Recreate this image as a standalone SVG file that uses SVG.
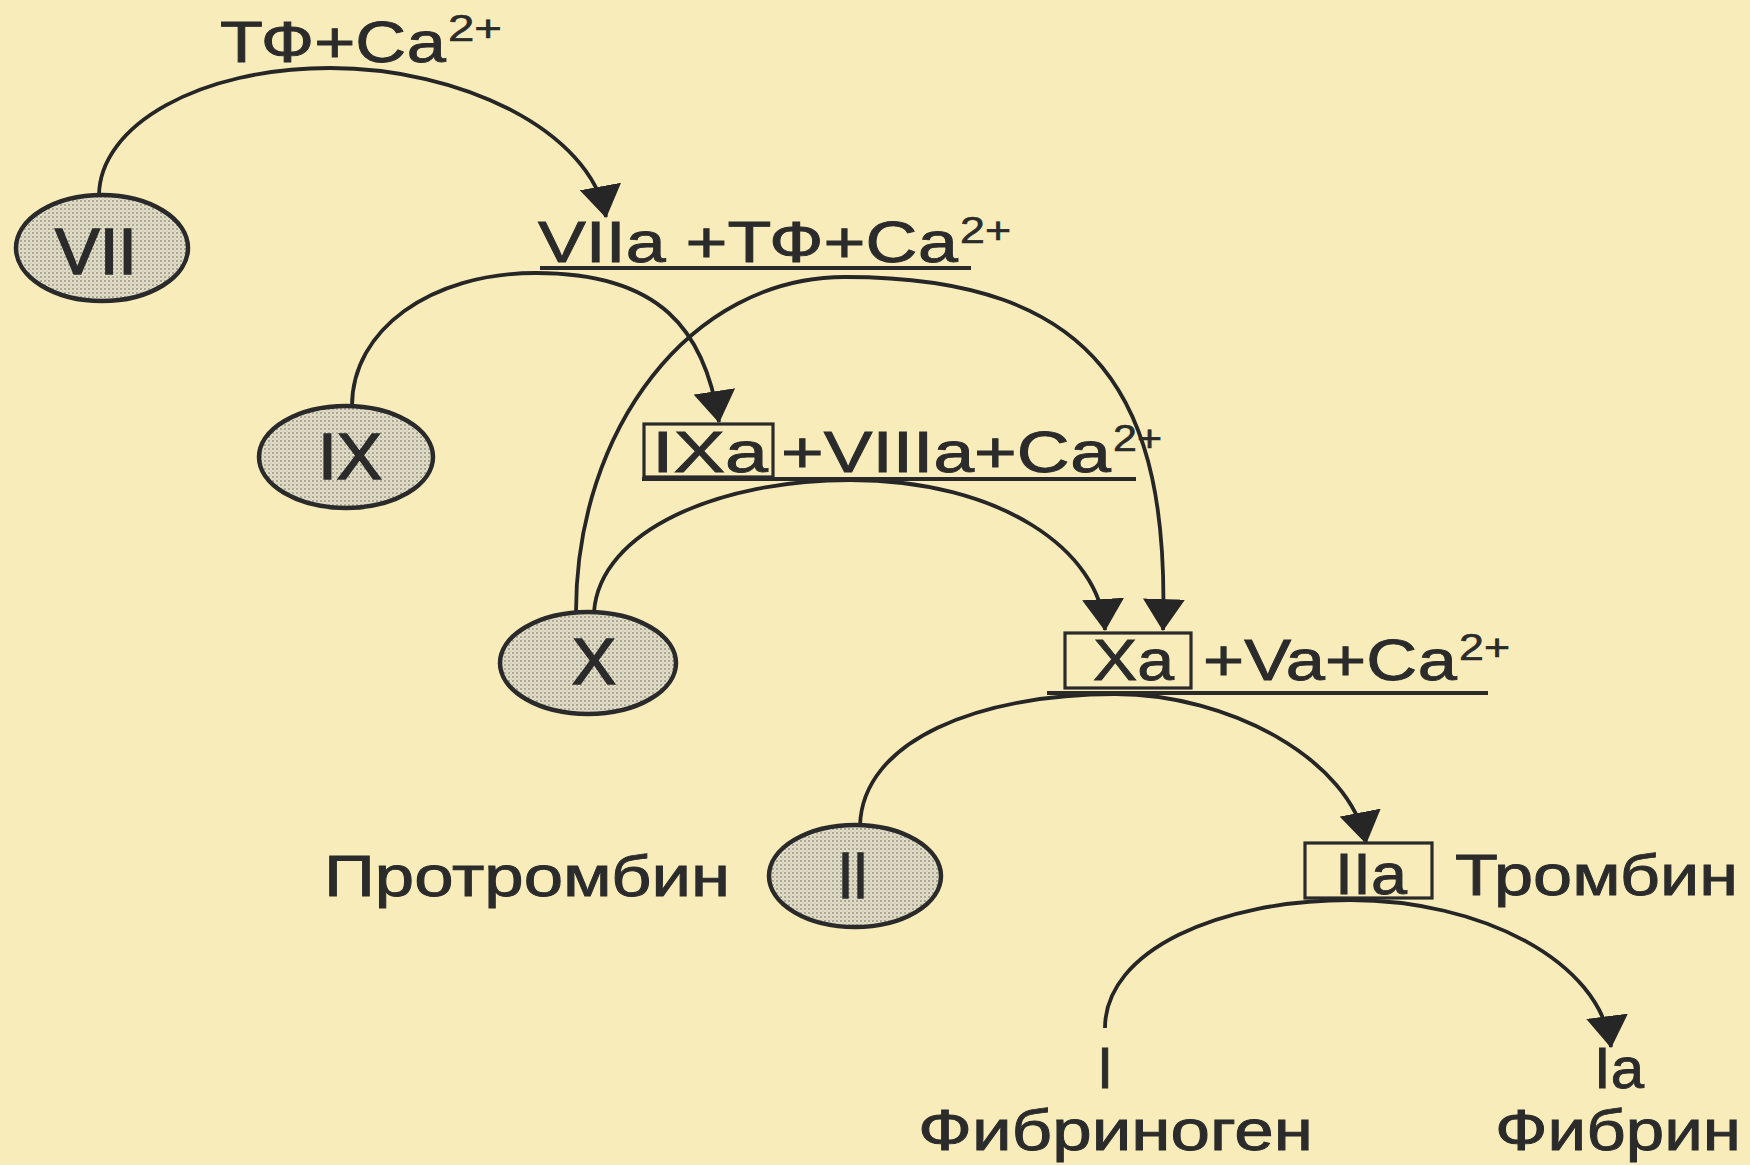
<svg xmlns="http://www.w3.org/2000/svg" width="1750" height="1165" viewBox="0 0 1750 1165">
  <defs>
    <!-- stippled fill for the zymogen factors -->
    <pattern id="stipple" width="4" height="4" patternUnits="userSpaceOnUse">
      <rect width="4" height="4" fill="#e3dec8"/>
      <circle cx="1" cy="1" r="0.9" fill="#8e8a7a"/>
      <circle cx="3" cy="3" r="0.6" fill="#aaa593"/>
    </pattern>
    <marker id="head" viewBox="0 0 32 42" refX="31" refY="21" markerWidth="32" markerHeight="42" markerUnits="userSpaceOnUse" orient="auto">
      <path d="M0,0 L32,21 L0,42 z" fill="#262626"/>
    </marker>
    <style>
      .lbl { font-family: "Liberation Sans", Arial, sans-serif; font-size: 58px; fill: #2b2b2b; stroke: #2b2b2b; stroke-width: 0.9; }
      .sup { font-family: "Liberation Sans", Arial, sans-serif; font-size: 36px; fill: #2b2b2b; stroke: #2b2b2b; stroke-width: 0.6; }
      .factor ellipse { fill: url(#stipple); stroke: #2a2a2a; stroke-width: 4.5; }
      .factor text { font-size: 64px; stroke-width: 1.6; }
      .box { fill: none; stroke: #2a2a2a; stroke-width: 3.2; }
      .rule { stroke: #2a2a2a; stroke-width: 3.8; }
      #connectors path { fill: none; stroke: #262626; stroke-width: 3.8; marker-end: url(#head); }
    </style>
  </defs>

  <rect width="1750" height="1165" fill="#f8edba"/>

  <!-- connectors: each cascade step -->
  <g id="connectors">
    <path id="c-vii" d="M 99 196 C 99 125, 200 68, 330 68 C 460 68, 590 130, 606 217"/>
    <path id="c-ix" d="M 352 406 C 352 330, 430 273, 536 273 C 660 273, 705 330, 719 422"/>
    <path id="c-x-big" d="M 576 612 C 576 430, 690 277, 845 277 C 1100 277, 1170 400, 1163 630"/>
    <path id="c-x-small" d="M 594 612 C 600 530, 720 480, 850 480 C 1000 480, 1100 550, 1105 630"/>
    <path id="c-ii" d="M 860 826 C 862 740, 980 694, 1115 694 C 1230 694, 1350 760, 1366 843"/>
    <path id="c-i" d="M 1105 1028 C 1105 950, 1220 900, 1350 900 C 1480 900, 1600 960, 1611 1047"/>
  </g>

  <!-- tissue factor + calcium activating VII -->
  <g id="tf-ca">
    <text class="lbl" x="220" y="62" textLength="226" lengthAdjust="spacingAndGlyphs">ТФ+Са</text>
    <text class="sup" x="448" y="41" textLength="54" lengthAdjust="spacingAndGlyphs">2+</text>
  </g>

  <!-- zymogens -->
  <g id="f-vii" class="factor">
    <ellipse cx="102" cy="248" rx="86" ry="53"/>
    <text class="lbl" x="55" y="274" textLength="82" lengthAdjust="spacingAndGlyphs">VII</text>
  </g>
  <g id="f-ix" class="factor">
    <ellipse cx="346" cy="457" rx="87" ry="51"/>
    <text class="lbl" x="318" y="479" textLength="64" lengthAdjust="spacingAndGlyphs">IX</text>
  </g>
  <g id="f-x" class="factor">
    <ellipse cx="588" cy="663" rx="88" ry="51"/>
    <text class="lbl" x="572" y="684" textLength="44" lengthAdjust="spacingAndGlyphs">X</text>
  </g>
  <g id="f-ii" class="factor">
    <ellipse cx="855" cy="876" rx="86" ry="51"/>
    <text class="lbl" x="838" y="898" textLength="30" lengthAdjust="spacingAndGlyphs">II</text>
  </g>

  <!-- complexes -->
  <g id="c-viia">
    <text class="lbl" x="538" y="262" textLength="420" lengthAdjust="spacingAndGlyphs">VIIa +ТФ+Са</text>
    <text class="sup" x="960" y="243" textLength="51" lengthAdjust="spacingAndGlyphs">2+</text>
    <line class="rule" x1="540" y1="268" x2="971" y2="268"/>
  </g>
  <g id="c-ixa">
    <rect class="box" x="644" y="424" width="129" height="53"/>
    <text class="lbl" x="652" y="472" textLength="116" lengthAdjust="spacingAndGlyphs">IXa</text>
    <text class="lbl" x="781" y="472" textLength="330" lengthAdjust="spacingAndGlyphs">+VIIIa+Са</text>
    <text class="sup" x="1113" y="451" textLength="49" lengthAdjust="spacingAndGlyphs">2+</text>
    <line class="rule" x1="642" y1="479" x2="1136" y2="479"/>
  </g>
  <g id="c-xa">
    <rect class="box" x="1065" y="633" width="126" height="55"/>
    <text class="lbl" x="1093" y="680" textLength="81" lengthAdjust="spacingAndGlyphs">Xa</text>
    <text class="lbl" x="1203" y="680" textLength="254" lengthAdjust="spacingAndGlyphs">+Va+Са</text>
    <text class="sup" x="1459" y="660" textLength="51" lengthAdjust="spacingAndGlyphs">2+</text>
    <line class="rule" x1="1047" y1="693" x2="1488" y2="693"/>
  </g>
  <g id="c-iia">
    <rect class="box" x="1305" y="843" width="127" height="55"/>
    <text class="lbl" x="1335" y="894" textLength="72" lengthAdjust="spacingAndGlyphs">IIa</text>
    <text class="lbl" x="1455" y="895" textLength="283" lengthAdjust="spacingAndGlyphs">Тромбин</text>
  </g>

  <g id="lbl-prothrombin">
    <text class="lbl" x="324" y="896" textLength="406" lengthAdjust="spacingAndGlyphs">Протромбин</text>
  </g>

  <!-- fibrinogen to fibrin -->
  <g id="f-i">
    <text class="lbl" x="1105" y="1088" text-anchor="middle">I</text>
    <text class="lbl" x="918" y="1150" textLength="395" lengthAdjust="spacingAndGlyphs">Фибриноген</text>
  </g>
  <g id="f-ia">
    <text class="lbl" x="1594" y="1088" textLength="50" lengthAdjust="spacingAndGlyphs">Ia</text>
    <text class="lbl" x="1495" y="1150" textLength="246" lengthAdjust="spacingAndGlyphs">Фибрин</text>
  </g>
</svg>
